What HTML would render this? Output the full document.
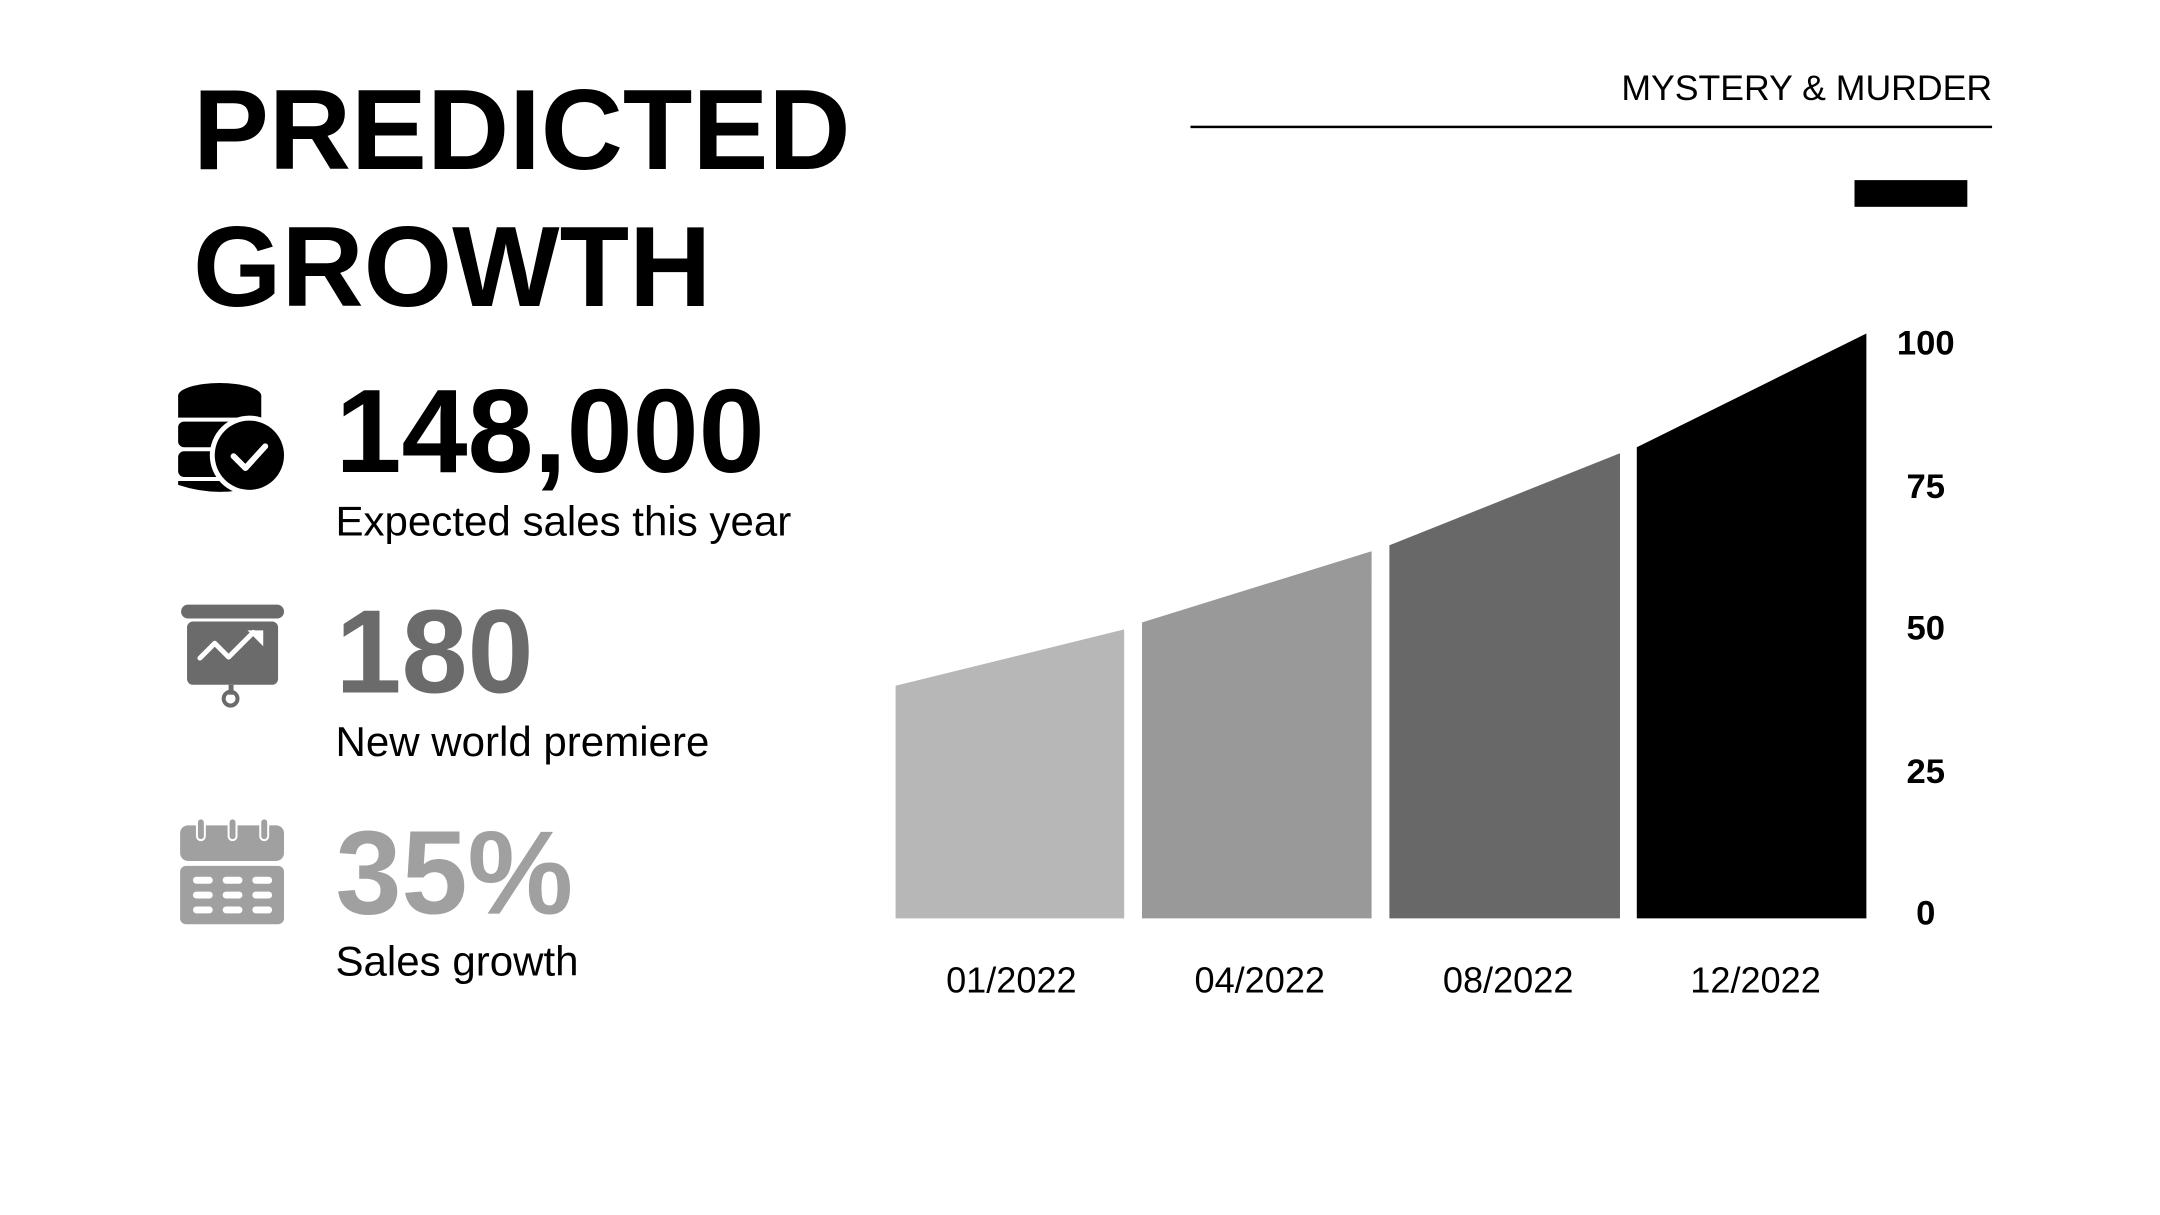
<!DOCTYPE html>
<html><head><meta charset="utf-8"><style>
html,body{margin:0;padding:0;background:#fff;}
svg{display:block;}
text{font-family:"Liberation Sans",Arial,sans-serif;}
</style></head><body>
<svg width="2160" height="1215" viewBox="0 0 2160 1215" xmlns="http://www.w3.org/2000/svg">
<rect width="2160" height="1215" fill="#fff"/>
<g transform="scale(0.9896)">
<text x="195" y="171" font-size="115" font-weight="bold" fill="#000">PREDICTED</text>
<text x="195" y="309" font-size="115" font-weight="bold" fill="#000">GROWTH</text>

<text x="2013" y="101" font-size="36" text-anchor="end" fill="#000">MYSTERY &amp; MURDER</text>
<rect x="1203" y="127" width="810" height="2.5" fill="#000"/>
<rect x="1874" y="182" width="114" height="27" fill="#000"/>

<text x="339" y="477" font-size="120" font-weight="bold" fill="#000">148,000</text>
<text x="339" y="541" font-size="42.5" fill="#000">Expected sales this year</text>
<text x="339" y="700" font-size="120" font-weight="bold" fill="#6b6b6b">180</text>
<text x="339" y="764" font-size="42.5" fill="#000">New world premiere</text>
<text x="339" y="923" font-size="120" font-weight="bold" fill="#a0a0a0">35%</text>
<text x="339" y="986" font-size="42.5" fill="#000">Sales growth</text>

<g>
<ellipse cx="222" cy="400" rx="42" ry="13" fill="#000"/>
<rect x="180" y="400" width="84" height="22" fill="#000"/>
<rect x="180" y="426" width="84" height="26" rx="6" fill="#000"/>
<rect x="180" y="456" width="84" height="26" rx="6" fill="#000"/>
<path d="M180 486 h84 v4 q-42 14 -84 0z" fill="#000"/>
<circle cx="252" cy="460" r="40" fill="#fff"/>
<circle cx="252" cy="460" r="35" fill="#000"/>
<path d="M236 461 l12 12 l20 -22" stroke="#fff" stroke-width="6" fill="none" stroke-linecap="round" stroke-linejoin="round"/>
</g>
<g fill="#6b6b6b">
<rect x="183" y="611" width="104" height="14" rx="7"/>
<rect x="189" y="628" width="92" height="64" rx="6"/>
<rect x="231" y="692" width="5" height="10"/>
<circle cx="233" cy="706" r="7" fill="none" stroke="#6b6b6b" stroke-width="4"/>
<path d="M202 665 l15 -15 l14 14 l25 -25" stroke="#fff" stroke-width="5" fill="none" stroke-linecap="round" stroke-linejoin="round"/>
<path d="M250 637 h16 v16z" fill="#fff"/>
</g>
<g fill="#a0a0a0">
<rect x="182" y="834" width="105" height="36" rx="8"/>
<rect x="182" y="875" width="105" height="59" rx="6"/>
<rect x="198" y="826" width="10" height="24" rx="5" fill="#fff"/>
<rect x="200" y="828" width="6" height="20" rx="3"/>
<rect x="230" y="826" width="10" height="24" rx="5" fill="#fff"/>
<rect x="232" y="828" width="6" height="20" rx="3"/>
<rect x="262" y="826" width="10" height="24" rx="5" fill="#fff"/>
<rect x="264" y="828" width="6" height="20" rx="3"/>
<g fill="#fff">
<rect x="195" y="886" width="20" height="7" rx="3.5"/><rect x="225" y="886" width="20" height="7" rx="3.5"/><rect x="255" y="886" width="20" height="7" rx="3.5"/>
<rect x="195" y="901" width="20" height="7" rx="3.5"/><rect x="225" y="901" width="20" height="7" rx="3.5"/><rect x="255" y="901" width="20" height="7" rx="3.5"/>
<rect x="195" y="916" width="20" height="7" rx="3.5"/><rect x="225" y="916" width="20" height="7" rx="3.5"/><rect x="255" y="916" width="20" height="7" rx="3.5"/>
</g>
</g>

<polygon points="905,928 905,693 1136,636 1136,928" fill="#b7b7b7"/>
<polygon points="1154,928 1154,629 1386,557 1386,928" fill="#999999"/>
<polygon points="1404,928 1404,551 1637,458 1637,928" fill="#686868"/>
<polygon points="1654,928 1654,452 1886,337 1886,928" fill="#000000"/>

<g font-size="35" font-weight="bold" text-anchor="middle" fill="#000">
<text x="1946" y="358">100</text>
<text x="1946" y="503">75</text>
<text x="1946" y="646">50</text>
<text x="1946" y="791">25</text>
<text x="1946" y="934">0</text>
</g>
<g font-size="36.5" text-anchor="middle" fill="#000">
<text x="1022" y="1003">01/2022</text>
<text x="1273" y="1003">04/2022</text>
<text x="1524" y="1003">08/2022</text>
<text x="1774" y="1003">12/2022</text>
</g>
</g>
</svg>
</body></html>
